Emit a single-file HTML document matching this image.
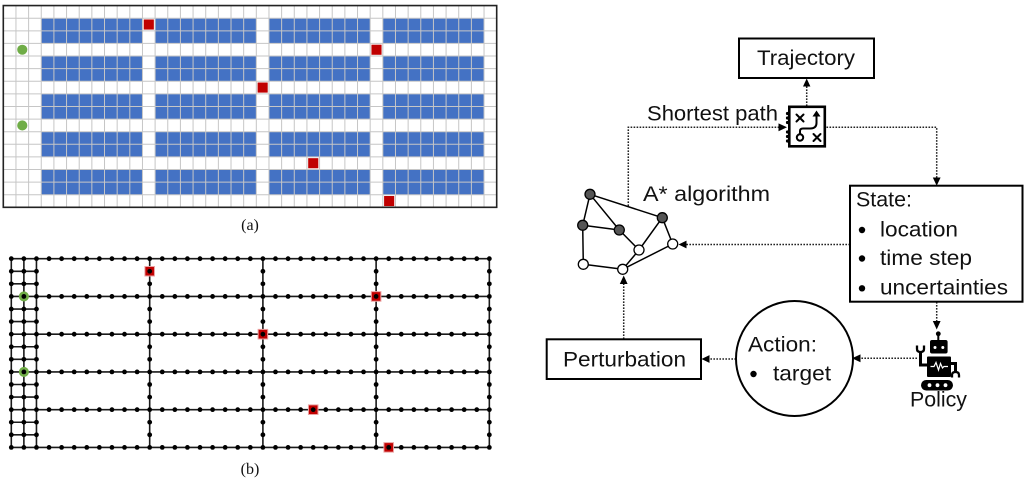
<!DOCTYPE html>
<html><head><meta charset="utf-8"><style>
html,body{margin:0;padding:0;background:#fff;}
svg{display:block;}
text{font-family:"Liberation Sans",Arial,sans-serif;fill:#111;}
.cap{font-family:"Liberation Serif","Times New Roman",serif;font-size:16px;}
.t{font-size:21px;}
.ns{vector-effect:non-scaling-stroke;}
.dot{fill:none;stroke:#222;stroke-width:1.5;stroke-dasharray:1.6 1.4;}
</style></head><body>
<svg width="1024" height="482" viewBox="0 0 1024 482" xmlns="http://www.w3.org/2000/svg">
<defs>
  <g id="band">
    <rect x="3" y="0" width="8" height="2"/>
    <rect x="12" y="0" width="8" height="2"/>
    <rect x="21" y="0" width="8" height="2"/>
    <rect x="30" y="0" width="8" height="2"/>
  </g>
  <g id="fr">
    <circle cx="0" cy="0" r="0.19"/><circle cx="1" cy="0" r="0.19"/><circle cx="2" cy="0" r="0.19"/><circle cx="3" cy="0" r="0.19"/><circle cx="4" cy="0" r="0.19"/><circle cx="5" cy="0" r="0.19"/><circle cx="6" cy="0" r="0.19"/><circle cx="7" cy="0" r="0.19"/><circle cx="8" cy="0" r="0.19"/><circle cx="9" cy="0" r="0.19"/>
    <circle cx="10" cy="0" r="0.19"/><circle cx="11" cy="0" r="0.19"/><circle cx="12" cy="0" r="0.19"/><circle cx="13" cy="0" r="0.19"/><circle cx="14" cy="0" r="0.19"/><circle cx="15" cy="0" r="0.19"/><circle cx="16" cy="0" r="0.19"/><circle cx="17" cy="0" r="0.19"/><circle cx="18" cy="0" r="0.19"/><circle cx="19" cy="0" r="0.19"/>
    <circle cx="20" cy="0" r="0.19"/><circle cx="21" cy="0" r="0.19"/><circle cx="22" cy="0" r="0.19"/><circle cx="23" cy="0" r="0.19"/><circle cx="24" cy="0" r="0.19"/><circle cx="25" cy="0" r="0.19"/><circle cx="26" cy="0" r="0.19"/><circle cx="27" cy="0" r="0.19"/><circle cx="28" cy="0" r="0.19"/><circle cx="29" cy="0" r="0.19"/>
    <circle cx="30" cy="0" r="0.19"/><circle cx="31" cy="0" r="0.19"/><circle cx="32" cy="0" r="0.19"/><circle cx="33" cy="0" r="0.19"/><circle cx="34" cy="0" r="0.19"/><circle cx="35" cy="0" r="0.19"/><circle cx="36" cy="0" r="0.19"/><circle cx="37" cy="0" r="0.19"/><circle cx="38" cy="0" r="0.19"/>
  </g>
  <g id="pr">
    <circle cx="0" cy="0" r="0.19"/><circle cx="1" cy="0" r="0.19"/><circle cx="2" cy="0" r="0.19"/><circle cx="11" cy="0" r="0.19"/><circle cx="20" cy="0" r="0.19"/><circle cx="29" cy="0" r="0.19"/><circle cx="38" cy="0" r="0.19"/>
  </g>
</defs>

<!-- (a) grid -->
<g transform="translate(3.3,5.6) scale(12.651,12.61)">
  <rect x="0" y="0" width="39" height="16" fill="#fff"/>
  <g fill="#4472c4">
    <use href="#band" y="1"/><use href="#band" y="4"/><use href="#band" y="7"/><use href="#band" y="10"/><use href="#band" y="13"/>
  </g>
  <path class="ns" stroke="#c6c6c6" stroke-width="1" fill="none" d="M1 0V16M2 0V16M3 0V16M4 0V16M5 0V16M6 0V16M7 0V16M8 0V16M9 0V16M10 0V16M11 0V16M12 0V16M13 0V16M14 0V16M15 0V16M16 0V16M17 0V16M18 0V16M19 0V16M20 0V16M21 0V16M22 0V16M23 0V16M24 0V16M25 0V16M26 0V16M27 0V16M28 0V16M29 0V16M30 0V16M31 0V16M32 0V16M33 0V16M34 0V16M35 0V16M36 0V16M37 0V16M38 0V16M0 1H39M0 2H39M0 3H39M0 4H39M0 5H39M0 6H39M0 7H39M0 8H39M0 9H39M0 10H39M0 11H39M0 12H39M0 13H39M0 14H39M0 15H39"/>
  <rect class="ns" x="0" y="0" width="39" height="16" fill="none" stroke="#222" stroke-width="1.6"/>
  <g fill="#c00000">
    <rect x="11.1" y="1.1" width="0.8" height="0.8"/>
    <rect x="29.1" y="3.1" width="0.8" height="0.8"/>
    <rect x="20.1" y="6.1" width="0.8" height="0.8"/>
    <rect x="24.1" y="12.1" width="0.8" height="0.8"/>
    <rect x="30.1" y="15.1" width="0.8" height="0.8"/>
  </g>
  <g fill="#70ad47">
    <ellipse cx="1.5" cy="3.5" rx="0.4" ry="0.4"/>
    <ellipse cx="1.5" cy="9.5" rx="0.4" ry="0.4"/>
  </g>
</g>
<text class="cap" x="250" y="230" text-anchor="middle">(a)</text>

<!-- (b) graph -->
<g transform="translate(11.3,258.7) scale(12.58)">
  <path class="ns" stroke="#1a1a1a" stroke-width="1.6" fill="none" d="M0 0H38M0 3H38M0 6H38M0 9H38M0 12H38M0 15H38M0 1H2M0 2H2M0 4H2M0 5H2M0 7H2M0 8H2M0 10H2M0 11H2M0 13H2M0 14H2M0 0V15M1 0V15M2 0V15M11 0V15M20 0V15M29 0V15M38 0V15"/>
  <g fill="#c00000" stroke="#eba3a3" stroke-width="1" class="ns">
    <rect class="ns" x="10.62" y="0.62" width="0.76" height="0.76"/>
    <rect class="ns" x="28.62" y="2.62" width="0.76" height="0.76"/>
    <rect class="ns" x="19.62" y="5.62" width="0.76" height="0.76"/>
    <rect class="ns" x="23.62" y="11.62" width="0.76" height="0.76"/>
    <rect class="ns" x="29.62" y="14.62" width="0.76" height="0.76"/>
  </g>
  <g fill="#70ad47">
    <circle cx="1" cy="3" r="0.4"/>
    <circle cx="1" cy="9" r="0.4"/>
  </g>
  <g fill="#000">
    <use href="#fr" y="0"/><use href="#pr" y="1"/><use href="#pr" y="2"/>
    <use href="#fr" y="3"/><use href="#pr" y="4"/><use href="#pr" y="5"/>
    <use href="#fr" y="6"/><use href="#pr" y="7"/><use href="#pr" y="8"/>
    <use href="#fr" y="9"/><use href="#pr" y="10"/><use href="#pr" y="11"/>
    <use href="#fr" y="12"/><use href="#pr" y="13"/><use href="#pr" y="14"/>
    <use href="#fr" y="15"/>
  </g>
</g>
<text class="cap" x="250" y="474" text-anchor="middle">(b)</text>

<!-- Right diagram -->
<!-- Trajectory box -->
<rect x="739" y="38.5" width="135" height="39.5" fill="#fff" stroke="#000" stroke-width="2"/>
<text class="t" x="757" y="65" textLength="98" lengthAdjust="spacingAndGlyphs">Trajectory</text>

<!-- connectors -->
<path class="dot" d="M806.7 106V86"/>
<polygon points="806.7,78.5 803,86.5 810.4,86.5" fill="#000"/>
<path class="dot" d="M628.3 206V127.3H779"/>
<polygon points="787,127.3 778.5,123.4 778.5,131.2" fill="#000"/>
<path class="dot" d="M826.5 127.3H936.7V178"/>
<polygon points="936.7,185.7 932.8,177.5 940.6,177.5" fill="#000"/>
<path class="dot" d="M850 244.5H686"/>
<polygon points="678.5,244.5 686.5,240.6 686.5,248.4" fill="#000"/>
<path class="dot" d="M936.7 302V321"/>
<polygon points="936.7,329.5 932.8,321 940.6,321" fill="#000"/>
<path class="dot" d="M917 358.3H860"/>
<polygon points="852,358.3 860.5,354.4 860.5,362.2" fill="#000"/>
<path class="dot" d="M736 359H709"/>
<polygon points="701.5,359 709.5,355.1 709.5,362.9" fill="#000"/>
<path class="dot" d="M623.7 339V284"/>
<polygon points="623.7,275.5 619.8,284 627.6,284" fill="#000"/>

<!-- Shortest path text & icon -->
<text class="t" x="647" y="120.7" textLength="131" lengthAdjust="spacingAndGlyphs">Shortest path</text>
<g>
  <g fill="#000">
    <circle cx="787.5" cy="113.5" r="1.6"/><circle cx="787.5" cy="118" r="1.6"/><circle cx="787.5" cy="122.5" r="1.6"/>
    <circle cx="787.5" cy="132" r="1.6"/><circle cx="787.5" cy="136.5" r="1.6"/><circle cx="787.5" cy="141" r="1.6"/>
  </g>
  <rect x="789.3" y="106.8" width="35.5" height="39.5" fill="#fff" stroke="#000" stroke-width="2.6"/>
  <g stroke="#000" stroke-width="2" fill="none" stroke-linecap="round">
    <path d="M796.5 114.5L803.5 121.5M803.5 114.5L796.5 121.5"/>
    <path d="M813.5 134L820.5 141M820.5 134L813.5 141"/>
    <circle cx="800" cy="137.5" r="3.2"/>
    <path d="M800 134.3V131Q800 128.5 803 128.5H810Q816.5 128.5 816.5 123V115"/>
  </g>
  <polygon points="816.5,110.5 812.5,116.5 820.5,116.5" fill="#000"/>
</g>

<!-- A* graph -->
<text class="t" x="643" y="201" textLength="127" lengthAdjust="spacingAndGlyphs">A* algorithm</text>
<g stroke="#000" stroke-width="1.5" fill="none">
  <path d="M590 194.3L582.7 225.3M590 194.3L619.3 230M590 194.3L662.3 217.7M582.7 225.3L619.3 230M582.7 225.3L583.3 264.3M619.3 230L639 250M662.3 217.7L639 250M662.3 217.7L672.7 244M639 250L622.7 269.3M672.7 244L622.7 269.3M583.3 264.3L622.7 269.3"/>
</g>
<g stroke="#000" stroke-width="1.3">
  <circle cx="590" cy="194.3" r="5" fill="#555"/>
  <circle cx="582.7" cy="225.3" r="5" fill="#555"/>
  <circle cx="619.3" cy="230" r="5" fill="#555"/>
  <circle cx="662.3" cy="217.7" r="5" fill="#555"/>
  <circle cx="639" cy="250" r="5" fill="#fff"/>
  <circle cx="672.7" cy="244" r="5" fill="#fff"/>
  <circle cx="583.3" cy="264.3" r="5" fill="#fff"/>
  <circle cx="622.7" cy="269.3" r="5" fill="#fff"/>
</g>

<!-- State box -->
<rect x="850" y="185.7" width="172.5" height="116" fill="#fff" stroke="#000" stroke-width="2"/>
<text class="t" x="856" y="206.5" textLength="56" lengthAdjust="spacingAndGlyphs">State:</text>
<circle cx="862" cy="230" r="3.2" fill="#000"/>
<text class="t" x="880" y="236.5" textLength="78" lengthAdjust="spacingAndGlyphs">location</text>
<circle cx="862" cy="258.5" r="3.2" fill="#000"/>
<text class="t" x="880" y="265" textLength="92" lengthAdjust="spacingAndGlyphs">time step</text>
<circle cx="862" cy="288.3" r="3.2" fill="#000"/>
<text class="t" x="880" y="294.5" textLength="128" lengthAdjust="spacingAndGlyphs">uncertainties</text>

<!-- Perturbation box -->
<rect x="546.7" y="339.3" width="154.3" height="39.7" fill="#fff" stroke="#000" stroke-width="2"/>
<text class="t" x="563" y="366.5" textLength="123" lengthAdjust="spacingAndGlyphs">Perturbation</text>

<!-- Action circle -->
<ellipse cx="794.5" cy="358.5" rx="58.5" ry="57.5" fill="#fff" stroke="#000" stroke-width="2"/>
<text class="t" x="748" y="351.5" textLength="69" lengthAdjust="spacingAndGlyphs">Action:</text>
<circle cx="753.5" cy="374" r="3.2" fill="#000"/>
<text class="t" x="773" y="380.5" textLength="58" lengthAdjust="spacingAndGlyphs">target</text>

<!-- Robot -->
<g>
  <circle cx="938.3" cy="333.8" r="2.4" fill="#000"/>
  <rect x="937.3" y="334" width="2" height="7" fill="#000"/>
  <rect x="930" y="340" width="17.6" height="13.5" rx="2" fill="#000"/>
  <circle cx="935" cy="347.5" r="1.5" fill="#fff"/>
  <circle cx="942.8" cy="347.5" r="1.5" fill="#fff"/>
  <rect x="927" y="356.5" width="24" height="20.5" rx="1" fill="#000"/>
  <polyline points="930.5,366.5 934,366.5 936,362.5 938.5,370 940.5,363.5 942.5,368 944,366.5 948,366.5" fill="none" stroke="#fff" stroke-width="1.2"/>
  <path d="M927 365H920.5V351" fill="none" stroke="#000" stroke-width="3"/>
  <path d="M917 345.5V349Q917 352 920.5 352Q924 352 924 349V345.5" fill="none" stroke="#000" stroke-width="2.3"/>
  <path d="M951 363.5H955.5V373" fill="none" stroke="#000" stroke-width="3"/>
  <path d="M952 377.5V375Q952 372 955.5 372Q959 372 959 375V377.5" fill="none" stroke="#000" stroke-width="2.3"/>
  <rect x="921" y="380" width="32" height="10.5" rx="5.2" fill="#000"/>
  <circle cx="929.5" cy="385.2" r="1.9" fill="#fff"/>
  <circle cx="937.5" cy="385.2" r="1.9" fill="#fff"/>
  <circle cx="945.5" cy="385.2" r="1.9" fill="#fff"/>
</g>
<text class="t" x="910" y="406.5" textLength="57" lengthAdjust="spacingAndGlyphs">Policy</text>
</svg>
</body></html>
